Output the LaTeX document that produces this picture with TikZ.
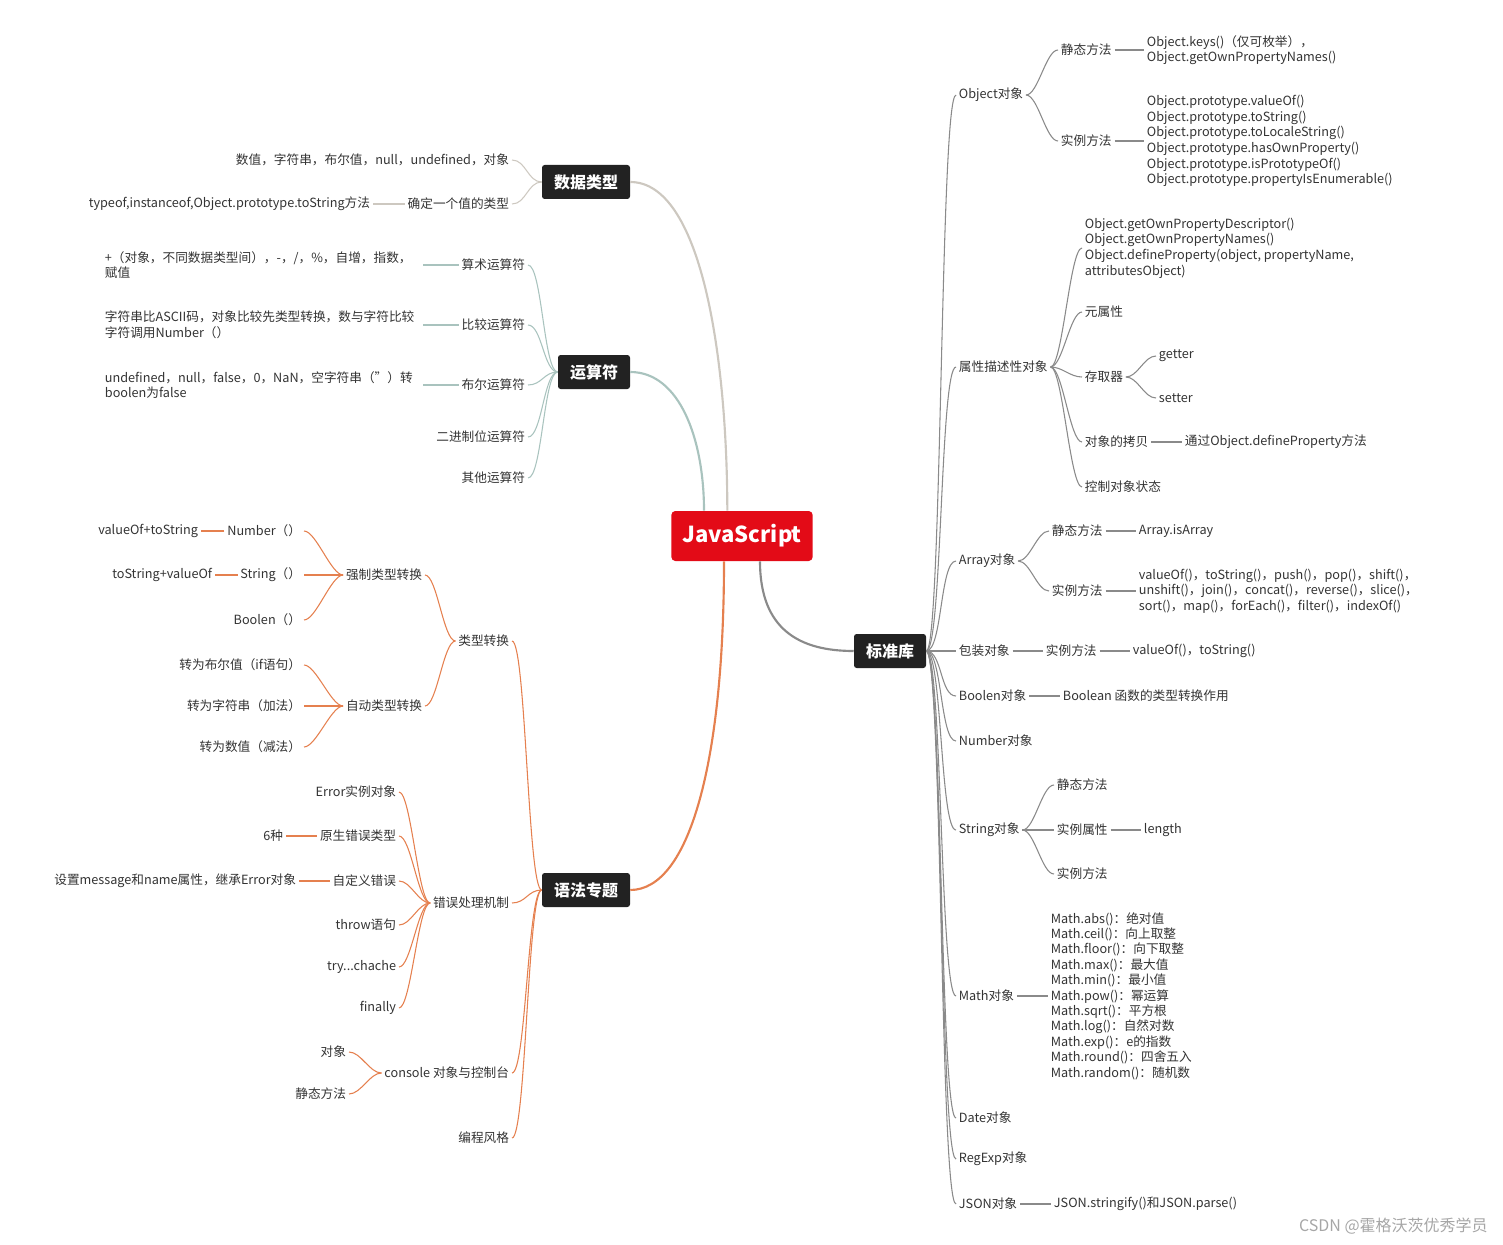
\documentclass[tikz,border=0pt]{standalone}
\usepackage{fontspec}
\setmainfont{Noto Sans CJK SC}
\usetikzlibrary{calc}
\definecolor{txt}{HTML}{333333}
\definecolor{ca}{HTML}{CDC8C0}
\definecolor{cb}{HTML}{A9C3BE}
\definecolor{cc}{HTML}{E5804F}
\definecolor{cd}{HTML}{8A8A8A}
\definecolor{rootred}{HTML}{E30B17}
\definecolor{hdbg}{HTML}{222222}
\newcommand\myR[4][]{\draw[#1] (#2.east) .. controls +(#4,0) and +(-#4,0) .. (#3.west);}
\newcommand\myL[4][]{\draw[#1] (#2.west) .. controls +(-#4,0) and +(#4,0) .. (#3.east);}
\begin{document}
\begin{tikzpicture}[x=0.75pt,y=-0.75pt,
 t/.style={font=\fontsize{9.5}{11.7}\selectfont, text=txt, inner xsep=2pt, inner ysep=1pt, align=left},
 hd/.style={fill=hdbg, text=white, font=\bfseries\fontsize{12}{14}\selectfont, rounded corners=2pt, minimum height=25.5pt, inner xsep=9pt},
 la/.style={ca,line width=0.8pt}, lb/.style={cb,line width=0.8pt},
 lc/.style={cc,line width=0.8pt}, ld/.style={cd,line width=0.8pt}]
\useasboundingbox (0,0) rectangle (1503,1245);
% root and main
\node[fill=rootred,text=white,font=\bfseries\fontsize{16.5}{18}\selectfont,rounded corners=3pt,minimum width=106pt,minimum height=37.5pt] (root) at (742,536) {JavaScript};
\node[hd] (ds) at (586,182) {数据类型};
\node[hd] (ys) at (594,372) {运算符};
\node[hd] (yf) at (586,890) {语法专题};
\node[hd] (bz) at (890,651) {标准库};
\draw[ca,line width=1.6pt] (ds.east) .. controls (700,182) and (727,350) .. ([xshift=-11pt]root.north);
\draw[cb,line width=1.6pt] (ys.east) .. controls (680,372) and (704,440) .. ([xshift=-28.5pt]root.north);
\draw[cc,line width=1.6pt] ([xshift=-13.5pt]root.south) .. controls (724,760) and (690,890) .. (yf.east);
\draw[cd,line width=1.6pt] ([xshift=13.5pt]root.south) .. controls (760,630) and (800,651) .. (bz.west);
% 数据类型
\node[t,anchor=east] (a1) at (512,160) {数值，字符串，布尔值，null，undefined，对象};
\node[t,anchor=east] (a2) at (512,204) {确定一个值的类型};
\node[t,anchor=east] (a3) at (373,204) {typeof,instanceof,Object.prototype.toString方法};
\myL[la]{ds}{a1}{14}\myL[la]{ds}{a2}{14}\myL[la]{a2}{a3}{8}
% 运算符
\node[t,anchor=east] (b1) at (528,265) {算术运算符};
\node[t,anchor=east] (b2) at (528,325) {比较运算符};
\node[t,anchor=east] (b3) at (528,385) {布尔运算符};
\node[t,anchor=east] (b4) at (528,437) {二进制位运算符};
\node[t,anchor=east] (b5) at (528,478) {其他运算符};
\foreach \n in {b1,b2,b3,b4,b5}{\myL[lb]{ys}{\n}{14}}
\node[t,anchor=west,text width=236pt] (b1a) at (102,265) {+（对象，不同数据类型间），-，/，\%，自增，指数，\\赋值};
\node[t,anchor=west,text width=236pt] (b2a) at (102,325) {字符串比ASCII码，对象比较先类型转换，数与字符比较\\字符调用Number（）};
\node[t,anchor=west,text width=236pt] (b3a) at (102,385) {undefined，null，false，0，NaN，空字符串（''）转\\boolen为false};
\myL[lb]{b1}{b1a}{6}\myL[lb]{b2}{b2a}{6}\myL[lb]{b3}{b3a}{6}
% 语法专题
\node[t,anchor=east] (c1) at (512,641) {类型转换};
\node[t,anchor=east] (c2) at (512,903) {错误处理机制};
\node[t,anchor=east] (c3) at (512,1073) {console 对象与控制台};
\node[t,anchor=east] (c4) at (512,1138) {编程风格};
\foreach \n in {c1,c2,c3,c4}{\myL[lc]{yf}{\n}{14}}
\node[t,anchor=east] (d1) at (425,575) {强制类型转换};
\node[t,anchor=east] (d2) at (425,706) {自动类型转换};
\myL[lc]{c1}{d1}{12}\myL[lc]{c1}{d2}{12}
\node[t,anchor=east] (e1) at (304,531) {Number（）};
\node[t,anchor=east] (e2) at (304,575) {String（）};
\node[t,anchor=east] (e3) at (304,620) {Boolen（）};
\foreach \n in {e1,e2,e3}{\myL[lc]{d1}{\n}{12}}
\node[t,anchor=east] (e1a) at (201,531) {valueOf+toString};
\node[t,anchor=east] (e2a) at (215,575) {toString+valueOf};
\myL[lc]{e1}{e1a}{6}\myL[lc]{e2}{e2a}{6}
\node[t,anchor=east] (f1) at (304,665) {转为布尔值（if语句）};
\node[t,anchor=east] (f2) at (304,706) {转为字符串（加法）};
\node[t,anchor=east] (f3) at (304,747) {转为数值（减法）};
\foreach \n in {f1,f2,f3}{\myL[lc]{d2}{\n}{12}}
\node[t,anchor=east] (g1) at (399,792) {Error实例对象};
\node[t,anchor=east] (g2) at (399,836) {原生错误类型};
\node[t,anchor=east] (g3) at (399,881) {自定义错误};
\node[t,anchor=east] (g4) at (399,925) {throw语句};
\node[t,anchor=east] (g5) at (399,967) {try...chache};
\node[t,anchor=east] (g6) at (399,1008) {finally};
\foreach \n in {g1,g2,g3,g4,g5,g6}{\myL[lc]{c2}{\n}{12}}
\node[t,anchor=east] (g2a) at (286,836) {6种};
\node[t,anchor=east] (g3a) at (299,881) {设置message和name属性，继承Error对象};
\myL[lc]{g2}{g2a}{6}\myL[lc]{g3}{g3a}{6}
\node[t,anchor=east] (h1) at (349,1052) {对象};
\node[t,anchor=east] (h2) at (349,1094) {静态方法};
\myL[lc]{c3}{h1}{12}\myL[lc]{c3}{h2}{12}
% 标准库
\node[t,anchor=west] (k1) at (956,95) {Object对象};
\node[t,anchor=west] (k2) at (956,367) {属性描述性对象};
\node[t,anchor=west] (k3) at (956,561) {Array对象};
\node[t,anchor=west] (k4) at (956,651) {包装对象};
\node[t,anchor=west] (k5) at (956,696) {Boolen对象};
\node[t,anchor=west] (k6) at (956,741) {Number对象};
\node[t,anchor=west] (k7) at (956,830) {String对象};
\node[t,anchor=west] (k8) at (956,996) {Math对象};
\node[t,anchor=west] (k9) at (956,1118) {Date对象};
\node[t,anchor=west] (k10) at (956,1159) {RegExp对象};
\node[t,anchor=west] (k11) at (956,1204) {JSON对象};
\foreach \n in {k1,k2,k3,k4,k5,k6,k7,k8,k9,k10,k11}{\myR[ld]{bz}{\n}{16}}
% Object
\node[t,anchor=west] (m1) at (1058,50) {静态方法};
\node[t,anchor=west] (m2) at (1058,141) {实例方法};
\myR[ld]{k1}{m1}{12}\myR[ld]{k1}{m2}{12}
\node[t,anchor=west] (m1a) at (1144,50) {Object.keys()（仅可枚举），\\Object.getOwnPropertyNames()};
\node[t,anchor=west] (m2a) at (1144,141) {Object.prototype.valueOf()\\Object.prototype.toString()\\Object.prototype.toLocaleString()\\Object.prototype.hasOwnProperty()\\Object.prototype.isPrototypeOf()\\Object.prototype.propertyIsEnumerable()};
\myR[ld]{m1}{m1a}{6}\myR[ld]{m2}{m2a}{6}
% 属性描述
\node[t,anchor=west] (n1) at (1082,248) {Object.getOwnPropertyDescriptor()\\Object.getOwnPropertyNames()\\Object.defineProperty(object, propertyName,\\attributesObject)};
\node[t,anchor=west] (n2) at (1082,312) {元属性};
\node[t,anchor=west] (n3) at (1082,377) {存取器};
\node[t,anchor=west] (n4) at (1082,442) {对象的拷贝};
\node[t,anchor=west] (n5) at (1082,487) {控制对象状态};
\foreach \n in {n1,n2,n3,n4,n5}{\myR[ld]{k2}{\n}{12}}
\node[t,anchor=west] (n3a) at (1156,356) {getter};
\node[t,anchor=west] (n3b) at (1156,398) {setter};
\myR[ld]{n3}{n3a}{12}\myR[ld]{n3}{n3b}{12}
\node[t,anchor=west] (n4a) at (1182,442) {通过Object.defineProperty方法};
\myR[ld]{n4}{n4a}{6}
% Array
\node[t,anchor=west] (p1) at (1049,531) {静态方法};
\node[t,anchor=west] (p2) at (1049,591) {实例方法};
\myR[ld]{k3}{p1}{12}\myR[ld]{k3}{p2}{12}
\node[t,anchor=west] (p1a) at (1136,531) {Array.isArray};
\node[t,anchor=west] (p2a) at (1136,591) {valueOf()，toString()，push()，pop()，shift()，\\unshift()，join()，concat()，reverse()，slice()，\\sort()，map()，forEach()，filter()，indexOf()};
\myR[ld]{p1}{p1a}{6}\myR[ld]{p2}{p2a}{6}
% 包装 / Boolen
\node[t,anchor=west] (q1) at (1043,651) {实例方法};
\node[t,anchor=west] (q1a) at (1130,651) {valueOf()，toString()};
\myR[ld]{k4}{q1}{6}\myR[ld]{q1}{q1a}{6}
\node[t,anchor=west] (r1) at (1060,696) {Boolean 函数的类型转换作用};
\myR[ld]{k5}{r1}{6}
% String
\node[t,anchor=west] (s1) at (1054,785) {静态方法};
\node[t,anchor=west] (s2) at (1054,830) {实例属性};
\node[t,anchor=west] (s3) at (1054,874) {实例方法};
\foreach \n in {s1,s2,s3}{\myR[ld]{k7}{\n}{12}}
\node[t,anchor=west] (s2a) at (1141,830) {length};
\myR[ld]{s2}{s2a}{6}
% Math
\node[t,anchor=west,font=\fontsize{9.5}{11.55}\selectfont] (u1) at (1048,996) {Math.abs()：绝对值\\Math.ceil()：向上取整\\Math.floor()：向下取整\\Math.max()：最大值\\Math.min()：最小值\\Math.pow()：幂运算\\Math.sqrt()：平方根\\Math.log()：自然对数\\Math.exp()：e的指数\\Math.round()：四舍五入\\Math.random()：随机数};
\myR[ld]{k8}{u1}{6}
% JSON
\node[t,anchor=west] (v1) at (1051,1204) {JSON.stringify()和JSON.parse()};
\myR[ld]{k11}{v1}{6}
% watermark
\node[anchor=east,text=gray!70,font=\fontsize{12}{14}\selectfont,inner sep=0pt] (wm) at (1488,1226) {CSDN @霍格沃茨优秀学员};
\end{tikzpicture}
\end{document}
